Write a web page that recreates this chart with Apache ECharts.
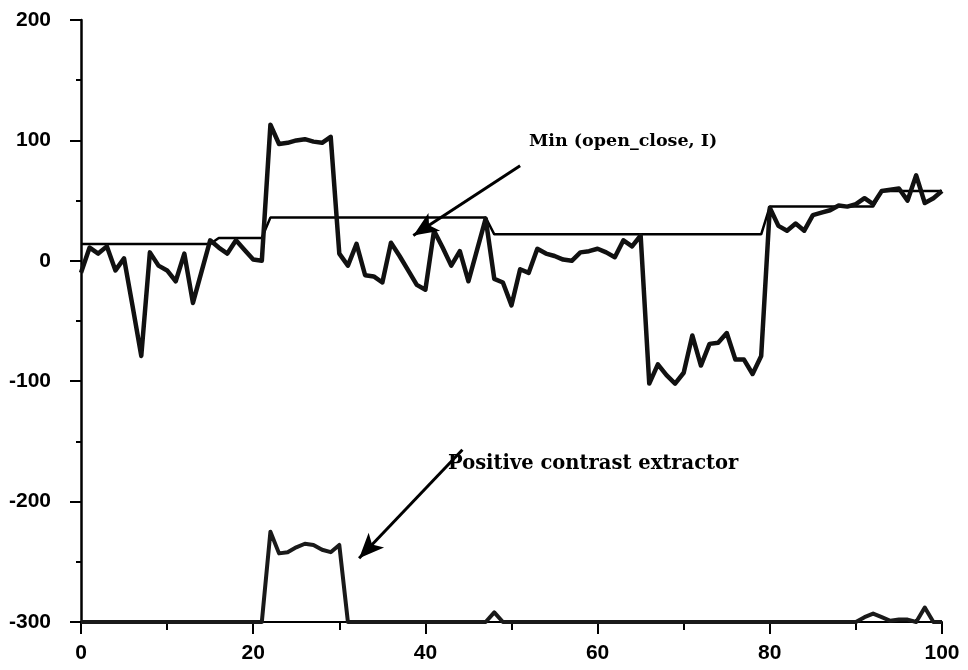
<!DOCTYPE html>
<html>
<head>
<meta charset="utf-8">
<script src="https://cdn.jsdelivr.net/npm/echarts@6/dist/echarts.min.js"></script>
<style>
  html, body { margin: 0; padding: 0; background: #fff; }
  #main { width: 968px; height: 670px; }
</style>
</head>
<body>
<div id="main"></div>
<script>
// x positions 0..100
const signalValues = [
  -10, 11, 6, 12, -8, 2, -38, -79, 7, -4,
  -8, -17, 6, -35, -9, 17, 11, 6, 17, 9,
  1, 0, 113, 97, 98, 100, 101, 99, 98, 103,
  6, -4, 14, -12, -13, -18, 15, 4, -8, -20,
  -24, 25, 11, -4, 8, -17, 9, 35, -15, -18,
  -37, -7, -10, 10, 6, 4, 1, 0, 7, 8,
  10, 7, 3, 17, 12, 21, -102, -86, -95, -102,
  -93, -62, -87, -69, -68, -60, -82, -82, -94, -79,
  44, 29, 25, 31, 25, 38, 40, 42, 46, 45,
  47, 52, 47, 58, 59, 60, 50, 71, 48, 52,
  58
];

// Min (open_close, I) step line: [x, value]
const minX = [0, 15, 16, 21, 22, 47, 48, 79, 80, 92, 93, 100];
const minY = [14, 14, 19, 19, 36, 36, 22, 22, 45, 45, 58, 58];

// positive contrast extractor
const extractorValues = [
  -300, -300, -300, -300, -300, -300, -300, -300, -300, -300,
  -300, -300, -300, -300, -300, -300, -300, -300, -300, -300,
  -300, -300, -225, -243, -242, -238, -235, -236, -240, -242,
  -236, -300, -300, -300, -300, -300, -300, -300, -300, -300,
  -300, -300, -300, -300, -300, -300, -300, -300, -292, -300,
  -300, -300, -300, -300, -300, -300, -300, -300, -300, -300,
  -300, -300, -300, -300, -300, -300, -300, -300, -300, -300,
  -300, -300, -300, -300, -300, -300, -300, -300, -300, -300,
  -300, -300, -300, -300, -300, -300, -300, -300, -300, -300,
  -300, -296, -293, -296, -299, -298, -298, -300, -288, -300,
  -300
];

const yTicks = [-300, -200, -100, 0, 100, 200];

// annotation arrows in data coordinates: [from, to]
const arrowMin = [[51, 79], [38.6, 21]];
const arrowExtractor = [[44.3, -157], [32.3, -247]];

const toPairs = (vals) => vals.map((v, i) => [i, v]);

const chart = echarts.init(document.getElementById('main'));

const tickFont = {
  color: '#000',
  fontFamily: 'Liberation Sans, Arial, sans-serif',
  fontSize: 21,
  fontWeight: 'bold'
};

const arrowLine = (pts) => ({
  silent: true,
  symbol: ['none', 'arrow'],
  symbolSize: [16, 25],
  lineStyle: { color: '#000', width: 3, type: 'solid' },
  label: { show: false },
  data: [[{ coord: pts[0] }, { coord: pts[1] }]]
});

const option = {
  backgroundColor: '#fff',
  animation: false,
  grid: { left: 81, right: 26, top: 20, bottom: 48 },
  xAxis: {
    type: 'value',
    min: 0,
    max: 100,
    interval: 20,
    axisLine: { show: true, onZero: false, lineStyle: { color: '#000', width: 2 } },
    axisTick: { show: true, length: 12, lineStyle: { color: '#000', width: 2 } },
    minorTick: { show: true, splitNumber: 2, length: 8, lineStyle: { color: '#000', width: 2 } },
    splitLine: { show: false },
    axisLabel: Object.assign({ margin: 21 }, tickFont)
  },
  yAxis: {
    type: 'value',
    min: yTicks[0],
    max: yTicks[yTicks.length - 1],
    interval: 100,
    axisLine: { show: true, lineStyle: { color: '#000', width: 2.5 } },
    axisTick: { show: true, length: 11, lineStyle: { color: '#000', width: 2 } },
    minorTick: { show: true, splitNumber: 2, length: 5, lineStyle: { color: '#000', width: 2 } },
    splitLine: { show: false },
    axisLabel: Object.assign({ margin: 30 }, tickFont)
  },
  series: [
    {
      name: 'Min (open_close, I)',
      type: 'line',
      data: minX.map((x, i) => [x, minY[i]]),
      showSymbol: false,
      lineStyle: { color: '#000', width: 2.5 },
      z: 3,
      markLine: arrowLine(arrowMin)
    },
    {
      name: 'signal',
      type: 'line',
      data: toPairs(signalValues),
      showSymbol: false,
      lineStyle: { color: '#111', width: 4.5, join: 'round' },
      z: 4
    },
    {
      name: 'Positive contrast extractor',
      type: 'line',
      data: toPairs(extractorValues),
      showSymbol: false,
      lineStyle: { color: '#1a1a1a', width: 4, join: 'round' },
      z: 4,
      markLine: arrowLine(arrowExtractor)
    }
  ],
  graphic: [
    {
      type: 'text',
      left: 529,
      top: 132,
      style: {
        text: 'Min (open_close, I)',
        fill: '#000',
        font: 'bold 17.5px "DejaVu Serif", "Liberation Serif", serif'
      }
    },
    {
      type: 'text',
      left: 448,
      top: 454,
      style: {
        text: 'Positive contrast extractor',
        fill: '#000',
        font: 'bold 19.5px "DejaVu Serif", "Liberation Serif", serif'
      }
    }
  ]
};

chart.setOption(option);
</script>
</body>
</html>
